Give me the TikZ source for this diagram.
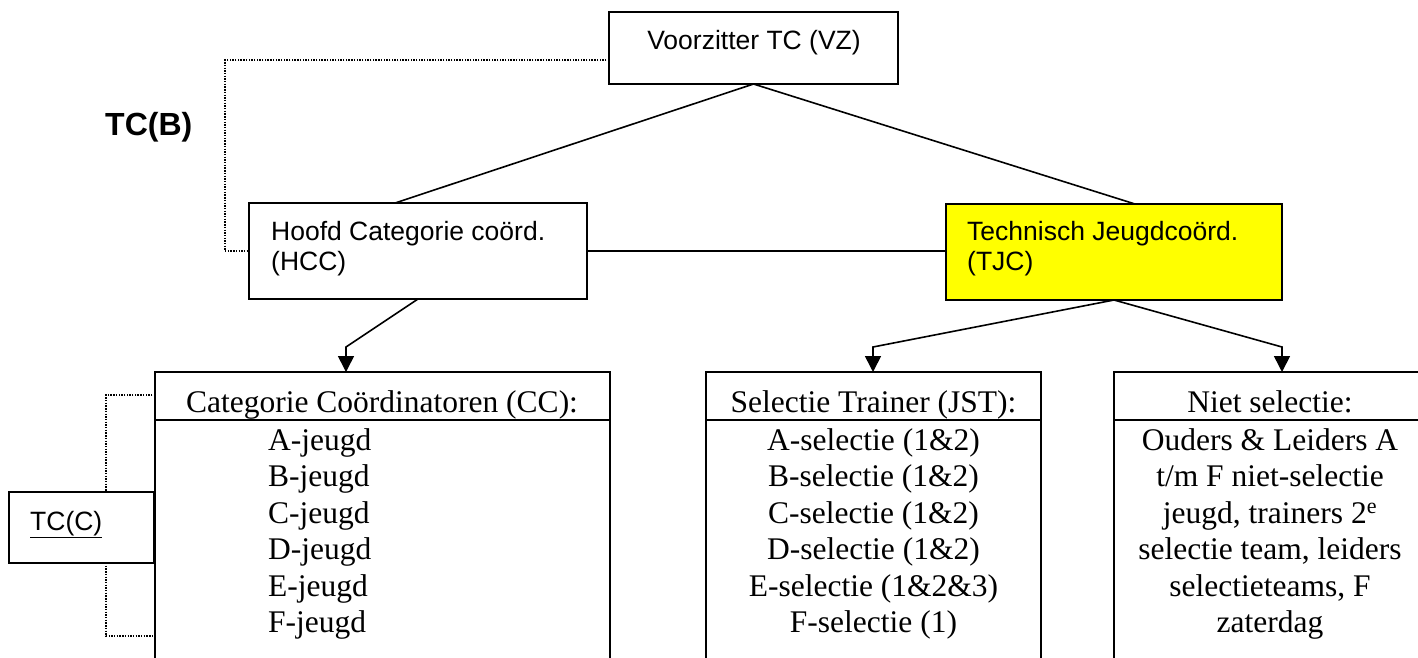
\documentclass[tikz,border=0pt]{standalone}
\usepackage{fontspec}
\setmainfont{Liberation Serif}
\setsansfont{Liberation Sans}
\usetikzlibrary{arrows.meta,calc}
\definecolor{tjcyellow}{RGB}{255,255,0}
\tikzset{
  box/.style={draw, line width=1.6pt, inner sep=0pt, outer sep=0pt, anchor=north west},
  conn/.style={line width=1.6pt},
  arr/.style={conn, -{Triangle[width=16pt,length=16pt]}},
  dots/.style={line width=1.4pt, dash pattern=on 1.4pt off 1.3pt},
  sanstxt/.style={font=\fontsize{26.5}{30.5}\selectfont\sffamily, inner sep=0pt},
  seriftxt/.style={font=\fontsize{31.5}{36.5}\selectfont\rmfamily, inner sep=0pt},
}
\begin{document}
\begin{tikzpicture}[x=1pt,y=-1pt]
\clip (0,0) rectangle (1418,657);
\fill[white] (0,0) rectangle (1418,657);

% boxes
\node[box, minimum width=289pt, minimum height=72pt] (vz) at (609,12) {};
\node[box, minimum width=338pt, minimum height=96pt] (hcc) at (249,203) {};
\node[box, fill=tjcyellow, minimum width=336pt, minimum height=96pt] (tjc) at (946,204) {};
\node[box, minimum width=455pt, minimum height=400pt] (cc) at (155,372) {};
\node[box, minimum width=335pt, minimum height=400pt] (jst) at (706,372) {};
\node[box, minimum width=320pt, minimum height=400pt] (niet) at (1114,372) {};
\node[box, minimum width=145pt, minimum height=71pt] (tcc) at (9,492) {};

% header dividers
\draw[conn] (cc.west |- 0,420) -- (cc.east |- 0,420);
\draw[conn] (jst.west |- 0,420) -- (jst.east |- 0,420);
\draw[conn] (niet.west |- 0,420) -- (niet.east |- 0,420);

% texts in upper boxes
\node[sanstxt, anchor=base] (vzt) at (754,49) {Voorzitter TC (VZ)};
\node[sanstxt, anchor=base west] (hcct1) at (271,240) {Hoofd Categorie coörd.};
\node[sanstxt, anchor=base west] (hcct2) at (271,270) {(HCC)};
\node[sanstxt, anchor=base west] (tjct1) at (967,240) {Technisch Jeugdcoörd.};
\node[sanstxt, anchor=base west] (tjct2) at (967,270) {(TJC)};
\node[font=\fontsize{32}{36}\selectfont\sffamily\bfseries, inner sep=0pt, anchor=base west] (tcb) at (105,135) {TC(B)};
\node[sanstxt, anchor=base west] (tcct) at (30,530) {\underline{TC(C)}};

% headers
\node[seriftxt, anchor=base] (cch) at (382,412) {Categorie Coördinatoren (CC):};
\node[seriftxt, anchor=base] (jsth) at (873.5,412) {Selectie Trainer (JST):};
\node[seriftxt, anchor=base] (nieth) at (1270,412) {Niet selectie:};

% lists
\foreach \t [count=\i] in {A-jeugd,B-jeugd,C-jeugd,D-jeugd,E-jeugd,F-jeugd}
  \node[seriftxt, anchor=base west] (cci\i) at (268,{450+36.5*(\i-1)}) {\t};
\foreach \t [count=\i] in {A-selectie (1\&2),B-selectie (1\&2),C-selectie (1\&2),D-selectie (1\&2),E-selectie (1\&2\&3),F-selectie (1)}
  \node[seriftxt, anchor=base] (jsti\i) at (873.5,{450+36.5*(\i-1)}) {\t};
\foreach \t [count=\i] in {Ouders \& Leiders A,t/m F niet-selectie,{jeugd, trainers 2\textsuperscript{e}},{selectie team, leiders},{selectieteams, F},zaterdag}
  \node[seriftxt, anchor=base] (nieti\i) at (1270,{450+36.5*(\i-1)}) {\t};

% connectors
\draw[conn] (vz.south) -- ($(hcc.north west)+(146,0)$);
\draw[conn] (vz.south) -- ($(tjc.north west)+(189,0)$);
\draw[conn] (hcc.east) -- (hcc.east -| tjc.west);

\coordinate (a1) at (346,347);
\coordinate (a2) at (873,347);
\coordinate (a3) at (1282,347);
\draw[arr] (hcc.south) -- (a1) -- (a1 |- cc.north);
\draw[arr] (tjc.south) -- (a2) -- (a2 |- jst.north);
\draw[arr] (tjc.south) -- (a3) -- (a3 |- niet.north);

% dotted connectors
\coordinate (d1) at (225,60);
\draw[dots] (vz.west |- d1) -- (d1) -- (d1 |- hcc.west) -- (hcc.west);
\coordinate (t1) at (106,395);
\coordinate (t2) at (106,636);
\draw[dots] (cc.west |- t1) -- (t1) -- (t1 |- tcc.north);
\draw[dots] (t2 |- tcc.south) -- (t2) -- (cc.west |- t2);
\end{tikzpicture}
\end{document}
